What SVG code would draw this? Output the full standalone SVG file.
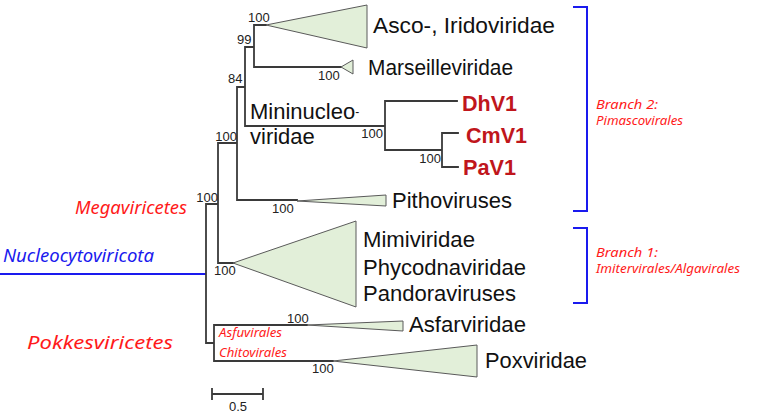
<svg xmlns="http://www.w3.org/2000/svg" width="762" height="417" viewBox="0 0 762 417">
<style>
.br{fill:none;stroke:#3a3a3a;stroke-width:1.8;stroke-linecap:square}
.tri{fill:#e2efd9;stroke:#5a5a5a;stroke-width:1}
.lab{font-family:"Liberation Sans",Arial,sans-serif;font-size:22px;fill:#111}
.bs{font-family:"Liberation Sans",Arial,sans-serif;font-size:13px;fill:#222}
.vir{font-family:"Liberation Sans",Arial,sans-serif;font-size:21.5px;font-weight:bold;fill:#c0161c}
.tax{font-family:"Noto Sans","Open Sans",sans-serif;font-style:italic;fill:#ff1a1a}
.blue{fill:none;stroke:#1a1aee;stroke-width:2}
</style>
<rect width="762" height="417" fill="#fff"/>
<g id="connectors">
<path class="blue" d="M0,274H206"/>
<path class="br" d="M206,204V343M206,204H218M218,143V263M218,143H237M237,87V200M237,87H245M245,47V126M245,47H254M254,25V67M254,25H266M254,67H341M245,126H385M385,101V150M385,101H457M385,150H442M442,133V167M442,133H458M442,167H458M237,200H297M218,263H233M206,343H214M214,325V361M214,325H307M214,361H333"/>
<path class="blue" d="M573,7H587V211H573M573,228H587V303H573"/>
</g>
<g id="asco"><polygon class="tri" points="266,25 367,5 367,48"/><text class="lab" x="373" y="33" font-size="23" textLength="182" lengthAdjust="spacingAndGlyphs">Asco-, Iridoviridae</text></g>
<g id="marseille"><polygon class="tri" points="341,67 353,60 353,74"/><text class="lab" x="368" y="75" textLength="145" lengthAdjust="spacingAndGlyphs">Marseilleviridae</text></g>
<g id="mininucleo"><text class="lab" x="250" y="119" font-size="21">Mininucleo<tspan font-size="12" dy="-3">-</tspan></text><text class="lab" x="250" y="144" font-size="20">viridae</text></g>
<g id="dhv1"><text class="vir" x="462" y="111" textLength="55" lengthAdjust="spacingAndGlyphs">DhV1</text></g>
<g id="cmv1"><text class="vir" x="466" y="143" textLength="61" lengthAdjust="spacingAndGlyphs">CmV1</text></g>
<g id="pav1"><text class="vir" x="463" y="175" textLength="53" lengthAdjust="spacingAndGlyphs">PaV1</text></g>
<g id="pitho"><polygon class="tri" points="297,201 386,195 386,206"/><text class="lab" x="392" y="208" textLength="120" lengthAdjust="spacingAndGlyphs">Pithoviruses</text></g>
<g id="mimi"><polygon class="tri" points="233,263 356,221 356,307"/><text class="lab" x="363" y="247" textLength="112" lengthAdjust="spacingAndGlyphs">Mimiviridae</text><text class="lab" x="363" y="275" textLength="163" lengthAdjust="spacingAndGlyphs">Phycodnaviridae</text><text class="lab" x="363" y="301" textLength="153" lengthAdjust="spacingAndGlyphs">Pandoraviruses</text></g>
<g id="asfar"><polygon class="tri" points="307,325 403,321 403,331"/><text class="lab" x="409" y="332" textLength="117" lengthAdjust="spacingAndGlyphs">Asfarviridae</text></g>
<g id="pox"><polygon class="tri" points="333,361 477,345 477,377"/><text class="lab" x="485" y="368" textLength="102" lengthAdjust="spacingAndGlyphs">Poxviridae</text></g>
<g id="bootstrap">
<text class="bs" x="248" y="22">100</text>
<text class="bs" x="237" y="44">99</text>
<text class="bs" x="228" y="83">84</text>
<text class="bs" x="318" y="80">100</text>
<text class="bs" x="383" y="138" text-anchor="end">100</text>
<text class="bs" x="441" y="163" text-anchor="end">100</text>
<text class="bs" x="237" y="141" text-anchor="end">100</text>
<text class="bs" x="218" y="202" text-anchor="end">100</text>
<text class="bs" x="272" y="213">100</text>
<text class="bs" x="214" y="275">100</text>
<text class="bs" x="287" y="323">100</text>
<text class="bs" x="312" y="373">100</text>
</g>
<g id="taxa">
<text class="tax" x="75" y="214" font-size="18" textLength="112" lengthAdjust="spacingAndGlyphs">Megaviricetes</text>
<text class="tax" x="3" y="262" font-size="18" style="fill:#1a1aee" textLength="151" lengthAdjust="spacingAndGlyphs">Nucleocytoviricota</text>
<text class="tax" x="27" y="349" font-size="18" textLength="146" lengthAdjust="spacingAndGlyphs">Pokkesviricetes</text>
<text class="tax" x="219" y="337" font-size="12.5" textLength="63" lengthAdjust="spacingAndGlyphs">Asfuvirales</text>
<text class="tax" x="219" y="357" font-size="12.5" textLength="68" lengthAdjust="spacingAndGlyphs">Chitovirales</text>
</g>
<g id="branch2"><text class="tax" x="596" y="109" font-size="12.5" textLength="62" lengthAdjust="spacingAndGlyphs">Branch 2:</text><text class="tax" x="596" y="125" font-size="12.5" textLength="87" lengthAdjust="spacingAndGlyphs">Pimascovirales</text></g>
<g id="branch1"><text class="tax" x="596" y="257" font-size="12.5" textLength="62" lengthAdjust="spacingAndGlyphs">Branch 1:</text><text class="tax" x="596" y="273" font-size="12.5" textLength="144" lengthAdjust="spacingAndGlyphs">Imitervirales/Algavirales</text></g>
<g id="scalebar"><path class="br" d="M212,394H263M212,389V399M263,389V399"/><text class="bs" x="238" y="411" text-anchor="middle">0.5</text></g>
</svg>
